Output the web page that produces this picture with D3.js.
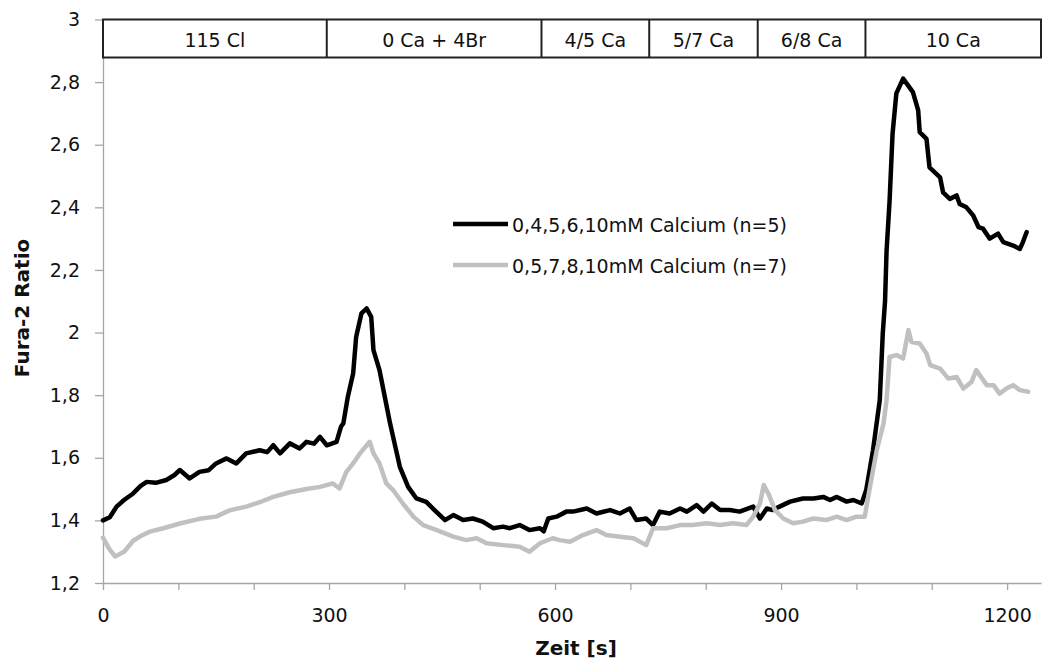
<!DOCTYPE html>
<html><head><meta charset="utf-8">
<script src="https://cdn.jsdelivr.net/npm/d3@7"></script>
<style>body{margin:0;background:#fff} svg{display:block} text{font-family:"DejaVu Sans",sans-serif}</style>
</head><body><svg id="c" width="1042" height="664"></svg>
<script>
// ---- data ----
const seriesNames = ["0,4,5,6,10mM Calcium (n=5)", "0,5,7,8,10mM Calcium (n=7)"];
const timeBlack = [0,9,18,28,40,50,58,70,84,95,102,115,128,140,150,164,177,190,208,218,226,235,248,261,270,280,288,297,310,316,319,325,332,336,343,350,356,359,367,374,381,387,394,405,416,429,440,454,465,478,491,504,518,531,540,553,566,580,585,591,602,615,624,642,655,673,686,699,708,721,730,739,752,766,775,788,797,808,819,832,845,863,872,881,889,898,912,929,943,956,965,974,987,996,1007,1013,1022,1031,1035,1038,1040,1044,1048,1053,1062,1075,1082,1084,1093,1097,1111,1115,1124,1133,1137,1146,1155,1162,1168,1177,1188,1195,1208,1217,1221,1226];
const ratioBlack = [1.40,1.41,1.444,1.465,1.486,1.51,1.523,1.52,1.529,1.545,1.561,1.534,1.555,1.56,1.582,1.598,1.582,1.614,1.624,1.618,1.640,1.614,1.646,1.630,1.651,1.645,1.667,1.640,1.651,1.70,1.71,1.795,1.869,1.986,2.061,2.077,2.05,1.944,1.88,1.795,1.71,1.646,1.571,1.507,1.470,1.459,1.433,1.401,1.417,1.401,1.406,1.396,1.375,1.380,1.375,1.385,1.369,1.375,1.365,1.406,1.412,1.428,1.428,1.438,1.422,1.433,1.422,1.438,1.401,1.406,1.385,1.428,1.422,1.438,1.428,1.449,1.428,1.454,1.433,1.433,1.428,1.444,1.406,1.438,1.433,1.444,1.46,1.470,1.470,1.475,1.465,1.475,1.460,1.465,1.454,1.497,1.624,1.784,1.998,2.10,2.26,2.42,2.636,2.764,2.811,2.768,2.710,2.640,2.619,2.528,2.496,2.448,2.427,2.438,2.411,2.400,2.374,2.337,2.332,2.300,2.316,2.289,2.278,2.267,2.289,2.321];
const timeGray = [0,8,16,28,40,50,62,80,102,128,150,168,190,208,226,248,270,288,305,314,323,332,341,354,359,367,376,385,398,412,425,443,465,482,496,509,531,553,566,580,597,606,620,637,655,668,686,704,721,730,748,766,783,801,819,836,854,863,872,877,883,892,903,916,929,943,960,974,987,1000,1011,1018,1027,1036,1040,1044,1053,1062,1069,1073,1084,1093,1098,1111,1122,1133,1142,1153,1159,1173,1182,1190,1199,1208,1217,1228];
const ratioGray = [1.345,1.31,1.285,1.30,1.335,1.35,1.364,1.375,1.39,1.405,1.412,1.432,1.444,1.458,1.475,1.49,1.50,1.507,1.518,1.502,1.555,1.582,1.614,1.651,1.614,1.582,1.518,1.497,1.454,1.412,1.385,1.369,1.348,1.337,1.343,1.327,1.321,1.316,1.300,1.327,1.343,1.337,1.332,1.353,1.369,1.353,1.348,1.343,1.321,1.375,1.375,1.385,1.385,1.391,1.385,1.391,1.385,1.412,1.454,1.513,1.486,1.433,1.406,1.391,1.396,1.406,1.401,1.412,1.401,1.412,1.412,1.507,1.624,1.71,1.784,1.922,1.928,1.917,2.008,1.970,1.965,1.933,1.896,1.885,1.853,1.858,1.821,1.843,1.880,1.832,1.832,1.805,1.821,1.832,1.816,1.811];
const segmentLabels = ["115 Cl", "0 Ca + 4Br", "4/5 Ca", "5/7 Ca", "6/8 Ca", "10 Ca"];
const segmentBounds = [0, 297, 582, 725, 869, 1012, 1245];
const yTicks = [1.2, 1.4, 1.6, 1.8, 2.0, 2.2, 2.4, 2.6, 2.8, 3.0];
const xTicks = [0,100,200,300,400,500,600,700,800,900,1000,1100,1200];
const xLabelStep = 300;
const xTitle = "Zeit [s]";
const yTitle = "Fura-2 Ratio";

// ---- layout ----
const svg = d3.select("#c");
const L = 103, R = 1041, T = 19.5, B = 583;
const x = d3.scaleLinear().domain([0, 1245]).range([L, R]);
const y = d3.scaleLinear().domain([1.2, 3.0]).range([B, T]);
const axisColor = "#a6a6a6";
const fmt = d => String(+d.toFixed(1)).replace(".", ",");

// axes
const gy = svg.append("g").attr("transform", `translate(${L},0)`)
  .call(d3.axisLeft(y).tickValues(yTicks).tickSize(8).tickSizeOuter(0).tickPadding(15).tickFormat(fmt));
const gx = svg.append("g").attr("transform", `translate(0,${B})`)
  .call(d3.axisBottom(x).tickValues(xTicks).tickSize(7).tickSizeOuter(0).tickPadding(19)
    .tickFormat(d => d % xLabelStep === 0 ? d : ""));
[gy, gx].forEach(g => {
  g.selectAll("path.domain").attr("stroke", axisColor).attr("stroke-width", 1.3);
  g.selectAll(".tick line").attr("stroke", axisColor).attr("stroke-width", 1.3);
  g.selectAll(".tick text").attr("fill", "#111").style("font-size", "19px").style("font-family", '"DejaVu Sans",sans-serif');
});

// header box
const hb = svg.append("g");
const boxH = 38;
hb.append("rect").attr("x", x(segmentBounds[0])).attr("y", y(3.0))
  .attr("width", x(segmentBounds[segmentBounds.length-1]) - x(segmentBounds[0])).attr("height", boxH)
  .attr("fill", "#fff").attr("stroke", "#222").attr("stroke-width", 2);
segmentBounds.slice(1, -1).forEach(b => {
  hb.append("line").attr("x1", x(b)).attr("x2", x(b)).attr("y1", y(3.0)).attr("y2", y(3.0) + boxH)
    .attr("stroke", "#222").attr("stroke-width", 2);
});
segmentLabels.forEach((lab, i) => {
  hb.append("text").attr("x", (x(segmentBounds[i]) + x(segmentBounds[i+1])) / 2).attr("y", y(3.0) + 27)
    .attr("text-anchor", "middle").attr("fill", "#111").style("font-size", "19px").text(lab);
});

// lines
const line = d3.line().x(d => x(d[0])).y(d => y(d[1]));
const dataBlack = timeBlack.map((t, i) => [t, ratioBlack[i]]);
const dataGray = timeGray.map((t, i) => [t, ratioGray[i]]);
svg.append("path").datum(dataBlack).attr("d", line).attr("fill", "none")
  .attr("stroke", "#000").attr("stroke-width", 4.5).attr("stroke-linejoin", "round").attr("stroke-linecap", "round");
svg.append("path").datum(dataGray).attr("d", line).attr("fill", "none")
  .attr("stroke", "#c0c0c0").attr("stroke-width", 4.5).attr("stroke-linejoin", "round").attr("stroke-linecap", "round");

// legend
const legColors = ["#000", "#c0c0c0"];
seriesNames.forEach((n, i) => {
  const yy = 224 + i * 41;
  svg.append("line").attr("x1", 453).attr("x2", 508).attr("y1", yy).attr("y2", yy)
    .attr("stroke", legColors[i]).attr("stroke-width", 4.5);
  svg.append("text").attr("x", 512).attr("y", yy + 8).attr("fill", "#111")
    .style("font-size", "19px").text(n);
});

// titles
svg.append("text").attr("x", (L + R) / 2 + 4).attr("y", 655).attr("text-anchor", "middle")
  .style("font-size", "20px").style("font-weight", "bold").attr("fill", "#111").text(xTitle);
svg.append("text").attr("transform", "translate(29,308) rotate(-90)").attr("text-anchor", "middle")
  .style("font-size", "20px").style("font-weight", "bold").attr("fill", "#111").text(yTitle);
</script></body></html>
